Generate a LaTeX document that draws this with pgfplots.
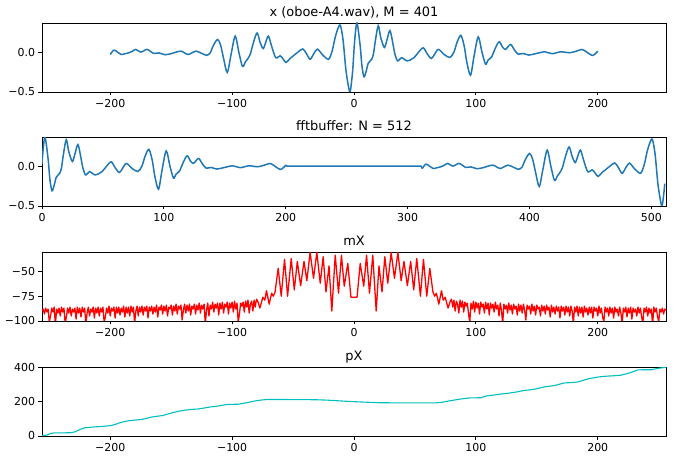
\documentclass[border=0pt]{standalone}
\usepackage{fontspec}
\setmainfont{DejaVu Sans}
\usepackage{pgfplots}
\pgfplotsset{compat=1.18}
\usepackage{pgfplotstable}
\definecolor{mplblue}{HTML}{1F77B4}
\definecolor{mplcyan}{rgb}{0,0.75,0.75}

\pgfplotstableread{
n v
-200 -0.03
-197 0.025
-194 0.0
-191 -0.03
-188 -0.02
-185 -0.01
-182 0.01
-179 0.034
-175 0.0
-170 0.034
-167 0.01
-164.5 -0.017
-160 -0.01
-155 -0.033
-149.5 -0.017
-146 0.0
-142 0.0125
-139 -0.01
-136 -0.03
-133 -0.01
-129.5 0.0125
-125 -0.015
-121 -0.04
-118 -0.01
-115.5 0.08
-112 0.158
-109.5 0.09
-107 -0.08
-104 -0.255
-101 -0.04
-97.5 0.2
-94.5 0.0
-91.5 -0.18
-89 -0.12
-87 -0.08
-85 -0.02
-82.5 0.12
-79.5 0.24
-77 0.12
-74.5 0.045
-72.5 0.12
-70.2 0.2
-67.5 0.07
-64.2 -0.07
-60.6 -0.046
-58 -0.09
-55.7 -0.13
-52.5 -0.08
-49.7 -0.046
-46 0.0
-42 0.04
-39 -0.02
-36 -0.09
-33 -0.02
-30 0.0375
-26 -0.03
-21 -0.09
-18 0.01
-15 0.21
-11.5 0.34
-9 0.155
-6.5 -0.24
-3.5 -0.5
-2 -0.37
-1 -0.22
}\xneg

\pgfplotstableread{
n v
0 0.03
1 0.22
2.5 0.366
5 0.09
6.5 -0.17
8.2 -0.31
10 -0.24
11.7 -0.14
14.5 -0.09
16 -0.02
17.5 0.14
19.9 0.33
22 0.18
24.9 0.058
27 0.15
29.5 0.27
32 0.1
33.5 -0.02
35.8 -0.11
39 -0.07
43.7 -0.11
49.2 -0.07
53 0.0
56.8 0.054
60 -0.02
63.4 -0.08
66 -0.03
69.2 0.034
74 -0.03
78.7 -0.067
82 0.0
84.5 0.12
87.7 0.21
90.5 0.07
92.5 -0.12
95.6 -0.29
98.5 -0.05
101.9 0.19
105 0.0
107.9 -0.15
110 -0.1
112.9 -0.06
116 0.05
119.1 0.13
122 0.06
124.3 0.034
126.5 0.07
128.7 0.096
131.5 0.03
134.7 -0.025
139 -0.017
143.4 -0.037
149.7 -0.017
156.6 0.004
162.6 -0.02
169.7 0.004
177 -0.008
182 0.01
187.2 0.033
191 0.0
195.4 -0.042
198 -0.02
200 0.012
}\xpos

\pgfplotstableread{
k v
0 -76
1 -76
2.5 -76
5.1 -42
8.0 -65
10.3 -33.7
12.7 -72
15.4 -33.7
18.2 -90
20.5 -44.5
23.0 -70.7
25.3 -35.3
27.7 -62
30.5 -31
33.2 -57
36.0 -31
38.7 -59.4
41.0 -40
43.8 -64.4
46.5 -40
49.0 -68.7
51.5 -37
54.5 -75
57.0 -37.8
59.7 -75
62.2 -47
64.8 -71
66.2 -75
67.6 -72
69.6 -83
71.8 -69.5
73.2 -79
74.8 -76
77.2 -87
79 -80
80 -78
81 -86
82 -79
83 -90
84 -80
85 -83
86 -92
87 -79
88 -86
89 -80
90 -91
91 -81
92 -85
93 -82
94 -93
95 -101
96 -82
97 -88
98 -80
99 -91
100 -81
101 -87
102 -82
103 -93
104 -81
105 -86
106 -83
107 -92
108 -81
109 -88
110 -82
111 -94
112 -82
113 -87
114 -83
115 -91
116 -81
117 -88
118 -84
119 -95
120 -82
121 -89
122 -103
123 -83
124 -88
125 -84
126 -92
127 -82
128 -89
129 -84
130 -93
131 -83
132 -88
133 -85
134 -94
135 -83
136 -90
137 -84
138 -92
139 -83
140 -89
141 -99
142 -84
143 -88
144 -85
145 -93
146 -83
147 -90
148 -85
149 -94
150 -84
151 -88
152 -86
153 -95
154 -84
155 -90
156 -85
157 -93
158 -84
159 -89
160 -86
161 -96
162 -84
163 -91
164 -86
165 -93
166 -85
167 -90
168 -86
169 -97
170 -85
171 -90
172 -86
173 -94
174 -85
175 -91
176 -86
177 -95
178 -85
179 -90
180 -102
181 -86
182 -91
183 -85
184 -95
185 -86
186 -92
187 -86
188 -96
189 -85
190 -91
191 -87
192 -94
193 -86
194 -92
195 -86
196 -97
197 -86
198 -90
199 -87
200 -95
201 -85
202 -92
203 -87
204 -96
205 -101
206 -86
207 -91
208 -87
209 -95
210 -86
211 -92
212 -87
213 -97
214 -86
215 -91
216 -88
217 -95
218 -86
219 -92
220 -103
221 -87
222 -91
223 -86
224 -96
225 -87
226 -92
227 -86
228 -98
229 -87
230 -91
231 -88
232 -95
233 -86
234 -92
235 -87
236 -96
237 -102
238 -87
239 -91
240 -86
241 -95
242 -87
243 -92
244 -88
245 -104
246 -86
247 -91
248 -87
249 -95
250 -101
251 -88
252 -91
253 -87
254 -93
255 -88
256 -89
}\mX

\pgfplotstableread{
k v
-256 3
-252 5
-249 15
-246 18
-233 19
-229 24
-225 38
-221 48
-215 52
-205 57
-199 62
-195 70
-192 78
-186 88
-183 91
-175 96
-170 103
-167 110
-160 117
-157 120
-152 130
-148 138
-143 146
-139 151
-133 156
-128 158
-122 165
-118 170
-112 175
-109 179
-104 185
-95 186
-90 192
-86 198
-82 204
-79 208
-74 212
-70 214
-60 214
-50 213
-40 213
-30 212
-22 210
-15 207
-8 204
0 201
10 198
20 195
35 194
50 194
67 194
72 197
77 204
82 210
88 217
95 223
104 224
109 235
115 240
120 245
126 250
131 255
135 260
139 266
144 270
148 274
153 282
157 289
162 293
166 298
170 306
173 311
179 313
184 317
189 328
193 336
197 341
200 345
205 349
209 351
214 353
219 356
224 365
228 374
233 387
238 388
244 388
248 394
251 398
256 402
}\pX

\pgfplotsset{
  panel/.style={
    scale only axis, width=624bp, height=69bp, anchor=south west,
    axis line style={line width=0.8bp, black},
    tick align=outside, major tick length=3.5bp,
    every tick/.style={black, line width=0.8bp},
    xtick pos=bottom, ytick pos=left,
    tick label style={font=\fontsize{11}{13}\selectfont},
    every axis title/.style={at={(0.5,1)}, anchor=base, yshift=6bp, inner sep=0pt,
      font=\fontsize{13}{15}\selectfont},
  },
}

\begin{document}
\begin{tikzpicture}
\useasboundingbox (0,0) rectangle (676bp,460bp);

\begin{axis}[panel, at={(42bp,368bp)},
  xmin=-256, xmax=256, ymin=-0.5, ymax=0.365,
  xtick={-200,-100,0,100,200}, xticklabels={−200,−100,0,100,200},
  ytick={-0.5,0}, yticklabels={−0.5,0.0},
  title={x (oboe-A4.wav), M = 401}]
\addplot[mplblue, line width=1.5bp, smooth] table[x=n,y=v] {\xneg};
\addplot[mplblue, line width=1.5bp] coordinates {(-1,-0.22) (0,0.03)};
\addplot[mplblue, line width=1.5bp, smooth] table[x=n,y=v] {\xpos};
\end{axis}

\begin{axis}[panel, at={(42bp,254bp)},
  xmin=0, xmax=512, ymin=-0.5, ymax=0.365,
  xtick={0,100,200,300,400,500}, xticklabels={0,100,200,300,400,500},
  ytick={-0.5,0}, yticklabels={−0.5,0.0},
  title={fftbuffer: N = 512}]
\addplot[mplblue, line width=1.5bp, smooth] table[x=n,y=v] {\xpos};
\addplot[mplblue, line width=1.5bp] coordinates {(200,0.012) (201,0) (311,0) (312,-0.03)};
\addplot[mplblue, line width=1.5bp, smooth] table[x expr=\thisrow{n}+512,y=v] {\xneg};
\end{axis}

\begin{axis}[panel, at={(42bp,139bp)},
  xmin=-256, xmax=256, ymin=-100, ymax=-30.5,
  xtick={-200,-100,0,100,200}, xticklabels={−200,−100,0,100,200},
  ytick={-100,-75,-50}, yticklabels={−100,−75,−50},
  title={mX}]
\addplot[red, line width=1.3bp, line join=round] table[x expr=-\thisrow{k},y=v] {\mX};
\addplot[red, line width=1.3bp, line join=round] table[x=k,y=v] {\mX};
\end{axis}

\begin{axis}[panel, at={(42bp,24bp)},
  xmin=-256, xmax=256, ymin=0, ymax=404,
  xtick={-200,-100,0,100,200}, xticklabels={−200,−100,0,100,200},
  ytick={0,200,400}, yticklabels={0,200,400},
  title={pX}]
\addplot[mplcyan, line width=1.1bp] table[x=k,y=v] {\pX};
\end{axis}
\end{tikzpicture}
\end{document}
